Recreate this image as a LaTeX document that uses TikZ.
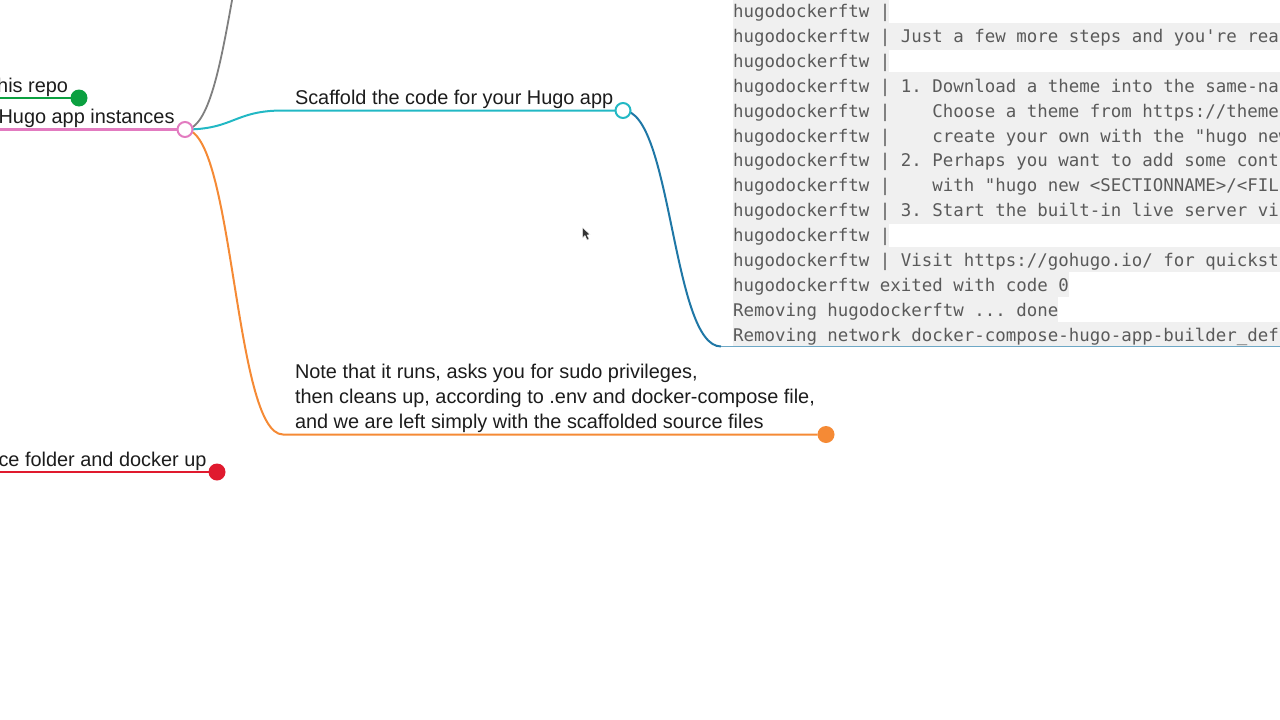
\documentclass[tikz,border=0pt]{standalone}
\usepackage{fontspec}
\setmainfont{Liberation Sans}
\setmonofont{DejaVu Sans Mono}
\usetikzlibrary{backgrounds}
\definecolor{termbg}{HTML}{F0F0F0}
\definecolor{termtx}{HTML}{5A5A5A}
\definecolor{inktx}{HTML}{1C1C1C}
\definecolor{pinkc}{HTML}{E27BC0}
\definecolor{greenc}{HTML}{0BA040}
\definecolor{redc}{HTML}{E01A2E}
\definecolor{orangec}{HTML}{F58A35}
\definecolor{cyanc}{HTML}{22B8C4}
\definecolor{bluec}{HTML}{1F77A6}
\definecolor{greyc}{HTML}{7F7F7F}
\tikzset{
  label/.style={inner sep=0pt,outer sep=0pt,text=inktx,align=left,font=\fontsize{19.9}{25}\selectfont},
  term/.style={inner sep=0pt,outer sep=0pt,anchor=base west,text=termtx,font=\ttfamily\fontsize{17.44}{25}\selectfont},
  dot/.style={circle,inner sep=0pt,outer sep=0pt,minimum size=17pt},
  hollow/.style={circle,inner sep=0pt,outer sep=0pt,minimum size=15pt,fill=white,line width=2pt},
  branch/.style={line width=2pt},
  trunk/.style={line width=2.8pt},
  band/.style={fill=termbg,draw=none}
}
\begin{document}
\begin{tikzpicture}[x=1pt,y=-1pt]
\useasboundingbox (0,0) rectangle (1280,720);
% named ends of connectors
\coordinate (pinkstart) at (0,129.5);
\coordinate (greenstart) at (0,98);
\coordinate (redstart) at (0,472);
\coordinate (greyend) at (281,-140);
\coordinate (cyanbend) at (283,110.5);
\coordinate (orangebend) at (283,434.5);
\coordinate (bluebend) at (721,346.5);
\coordinate (blueend) at (1280,346.5);
% branch dots
\node[hollow,draw=pinkc] (hub) at (185,129.5) {};
\node[hollow,draw=cyanc] (scaf) at (623,110.5) {};
\node[dot,fill=greenc] (repo) at (79,98) {};
\node[dot,fill=redc] (up) at (217,472) {};
\node[dot,fill=orangec] (note) at (826,434.5) {};
% bands and connectors beneath
\begin{scope}[on background layer]
  \fill[band] (733,0) rectangle (889,23);
  \fill[band] (733,23) rectangle (1280,50);
  \fill[band] (733,50) rectangle (889,72);
  \fill[band] (733,72) rectangle (1280,224);
  \fill[band] (733,224) rectangle (889,247);
  \fill[band] (733,247) rectangle (1280,272);
  \fill[band] (733,272) rectangle (1069,297);
  \fill[band] (733,297) rectangle (1058,322);
  \fill[band] (733,322) rectangle (1280,346);
  \draw[trunk,greenc] (greenstart) -- (repo);
  \draw[trunk,redc] (redstart) -- (up);
  \draw[trunk,pinkc] (pinkstart) -- (hub);
  \begin{scope}
    \clip (0,0) rectangle (1280,720);
    \draw[line width=1.8pt,greyc] (hub.center) .. controls (233,129.5) and (233,-140) .. (greyend);
  \end{scope}
  \draw[branch,cyanc] (hub.center) .. controls (234,129.5) and (234,110.5) .. (cyanbend) -- (scaf);
  \draw[branch,orangec] (hub.center) .. controls (234,129.5) and (234,434.5) .. (orangebend) -- (note);
  \draw[branch,bluec] (scaf.center) .. controls (672,110.5) and (672,346.5) .. (bluebend);
  \draw[line width=1.8pt,bluec!65!white] (bluebend) -- (blueend);
\end{scope}
% mind map labels
\node[label,anchor=east] (ltrepo) at (68,87.5) {his repo};
\node[label,anchor=east] (lthugo) at (174.5,118.5) {Hugo app instances};
\node[label,anchor=east] (ltup) at (206.5,461.5) {ce folder and docker up};
\node[label,anchor=west] (ltscaf) at (295,99.5) {Scaffold the code for your Hugo app};
\node[label,anchor=west] (ltnote) at (295,398.5) {Note that it runs, asks you for sudo privileges,\\then cleans up, according to .env and docker-compose file,\\and we are left simply with the scaffolded source files};
% terminal text
\node[term] (t1) at (733,17) {hugodockerftw |};
\node[term] (t2) at (733,42) {hugodockerftw | Just a few more steps and you're rea};
\node[term] (t3) at (733,67) {hugodockerftw |};
\node[term] (t4) at (733,92) {hugodockerftw | 1. Download a theme into the same-na};
\node[term] (t5) at (733,117) {hugodockerftw |\ \ \ \ Choose a theme from https://theme};
\node[term] (t6) at (733,142) {hugodockerftw |\ \ \ \ create your own with the "hugo new};
\node[term] (t7) at (733,166.5) {hugodockerftw | 2. Perhaps you want to add some cont};
\node[term] (t8) at (733,191.5) {hugodockerftw |\ \ \ \ with "hugo new <SECTIONNAME>/<FIL};
\node[term] (t9) at (733,216.5) {hugodockerftw | 3. Start the built-in live server vi};
\node[term] (t10) at (733,241) {hugodockerftw |};
\node[term] (t11) at (733,266) {hugodockerftw | Visit https://gohugo.io/ for quickst};
\node[term] (t12) at (733,291) {hugodockerftw exited with code 0};
\node[term] (t13) at (733,316) {Removing hugodockerftw ... done};
\node[term] (t14) at (733,341) {Removing network docker-compose-hugo-app-builder\_def};
% pointer
\fill[black!80,draw=white,line width=0.4pt] (582.5,227.5) -- (582.5,238) -- (585,235.5) -- (587,240) -- (589,239) -- (587,235) -- (590,234.5) -- cycle;
\end{tikzpicture}
\end{document}
